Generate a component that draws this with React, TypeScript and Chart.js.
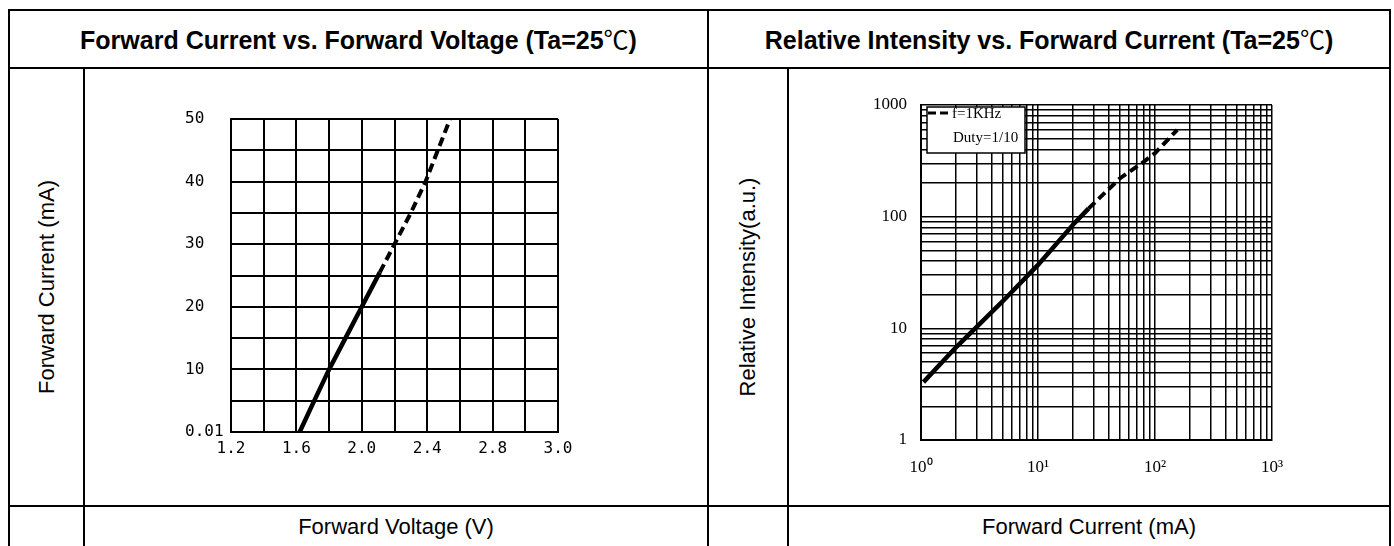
import React, { useEffect, useRef } from "react";
import { Chart, registerables } from "chart.js";

Chart.register(...registerables);

// ---- Left chart: Forward Current vs. Forward Voltage ----
const fvVoltSolid = [1.62, 1.7, 1.8, 1.9, 2.0, 2.11];
const fvCurrSolid = [0, 4.5, 10, 15, 20, 25.5];
const fvVoltDashed = [2.11, 2.2, 2.3, 2.39, 2.465, 2.54];
const fvCurrDashed = [25.5, 30, 35, 40, 45, 50];
const fvXTickLabels = ["1.2", "", "1.6", "", "2.0", "", "2.4", "", "2.8", "", "3.0"];
const fvYTickLabels = ["0.01", "", "10", "", "20", "", "30", "", "40", "", "50"];

// ---- Right chart: Relative Intensity vs. Forward Current ----
const riCurrSolid = [1.05, 2, 5, 10, 20, 27];
const riIntSolid = [3.3, 6.8, 17.5, 37, 85, 118];
const riCurrDashed = [27, 50, 80, 100, 155];
const riIntDashed = [118, 220, 310, 370, 600];
const riGridValues = [
  1, 2, 3, 4, 5, 6, 7, 8, 9,
  10, 20, 30, 40, 50, 60, 70, 80, 90,
  100, 200, 300, 400, 500, 600, 700, 800, 900,
  1000,
];
const riDecades = [1, 10, 100, 1000];
const riXDecadeLabels = ["10⁰", "10¹", "10²", "10³"];
const riYDecadeLabels = ["1", "10", "100", "1000"];
const riLegendLines = ["f=1KHz", "Duty=1/10"];

const SANS = '"Liberation Sans", Arial, sans-serif';
const CJK = '"Noto Sans CJK SC", "Noto Sans CJK JP", sans-serif';

function toPoints(xs: number[], ys: number[]) {
  return xs.map((x, i) => ({ x, y: ys[i] }));
}

function useChart(build: () => any) {
  const ref = useRef<HTMLCanvasElement | null>(null);
  useEffect(() => {
    if (!ref.current) return;
    const chart = new Chart(ref.current, build());
    return () => chart.destroy();
  }, []);
  return ref;
}

function leftConfig() {
  return {
    type: "scatter",
    data: {
      datasets: [
        {
          data: toPoints(fvVoltSolid, fvCurrSolid),
          showLine: true,
          borderColor: "#000",
          borderWidth: 4.5,
          pointRadius: 0,
        },
        {
          data: toPoints(fvVoltDashed, fvCurrDashed),
          showLine: true,
          borderColor: "#000",
          borderWidth: 4,
          borderDash: [9, 5],
          pointRadius: 0,
        },
      ],
    },
    options: {
      responsive: false,
      animation: false,
      layout: { padding: { left: 100, top: 50, right: 149, bottom: 43 } },
      plugins: { legend: { display: false }, tooltip: { enabled: false } },
      scales: {
        x: {
          type: "linear",
          min: 1.2,
          max: 3.2,
          afterFit: (s: any) => {
            s.height = 30;
          },
          ticks: {
            stepSize: 0.2,
            autoSkip: false,
            maxRotation: 0,
            padding: 7,
            color: "#000",
            font: { family: '"DejaVu Sans Mono", monospace', size: 16 },
            callback: (_v: any, i: number) => fvXTickLabels[i],
          },
          grid: { color: "#000", lineWidth: 2, drawTicks: false },
          border: { display: true, color: "#000", width: 2 },
        },
        y: {
          type: "linear",
          min: 0,
          max: 50,
          afterFit: (s: any) => {
            s.width = 46;
          },
          ticks: {
            stepSize: 5,
            autoSkip: false,
            crossAlign: "far",
            color: "#000",
            font: { family: '"DejaVu Sans Mono", monospace', size: 16 },
            callback: (_v: any, i: number) => fvYTickLabels[i],
          },
          grid: { color: "#000", lineWidth: 2, drawTicks: false },
          border: { display: true, color: "#000", width: 2 },
        },
      },
    },
  };
}

const legendBoxPlugin = {
  id: "legendBox",
  afterDraw(chart: any) {
    const { ctx, chartArea } = chart;
    const x = chartArea.left + 6;
    const y = chartArea.top + 2;
    const w = 98;
    const h = 46;
    ctx.save();
    ctx.fillStyle = "#fff";
    ctx.fillRect(x, y, w, h);
    ctx.strokeStyle = "#000";
    ctx.lineWidth = 1.5;
    ctx.strokeRect(x, y, w, h);
    ctx.beginPath();
    ctx.setLineDash([8, 4]);
    ctx.lineWidth = 3;
    ctx.moveTo(x + 1, y + 6);
    ctx.lineTo(x + 22, y + 6);
    ctx.stroke();
    ctx.setLineDash([]);
    ctx.fillStyle = "#000";
    ctx.font = '15px "Liberation Serif", serif';
    ctx.textBaseline = "middle";
    ctx.textAlign = "left";
    ctx.fillText(riLegendLines[0], x + 25, y + 7);
    ctx.fillText(riLegendLines[1], x + 26, y + 31);
    ctx.restore();
  },
};

function decadeLabel(v: number, labels: string[]) {
  const i = riDecades.findIndex((d) => Math.abs(d - v) < 1e-9);
  return i >= 0 ? labels[i] : "";
}

function rightConfig() {
  return {
    type: "scatter",
    data: {
      datasets: [
        {
          data: toPoints(riCurrSolid, riIntSolid),
          showLine: true,
          borderColor: "#000",
          borderWidth: 4.5,
          pointRadius: 0,
        },
        {
          data: toPoints(riCurrDashed, riIntDashed),
          showLine: true,
          borderColor: "#000",
          borderWidth: 4,
          borderDash: [9, 5],
          pointRadius: 0,
        },
      ],
    },
    plugins: [legendBoxPlugin],
    options: {
      responsive: false,
      animation: false,
      layout: { padding: { left: 72, top: 36, right: 117, bottom: 25 } },
      plugins: { legend: { display: false }, tooltip: { enabled: false } },
      scales: {
        x: {
          type: "logarithmic",
          min: 1,
          max: 1000,
          afterBuildTicks: (s: any) => {
            s.ticks = riGridValues.map((v) => ({ value: v }));
          },
          afterFit: (s: any) => {
            s.height = 40;
          },
          ticks: {
            autoSkip: false,
            maxRotation: 0,
            padding: 17,
            color: "#000",
            font: { family: '"Liberation Serif", serif', size: 17 },
            callback: (v: any) => decadeLabel(Number(v), riXDecadeLabels),
          },
          grid: { color: "#000", lineWidth: 1.5, drawTicks: false },
          border: { display: true, color: "#000", width: 2 },
        },
        y: {
          type: "logarithmic",
          min: 1,
          max: 1000,
          afterBuildTicks: (s: any) => {
            s.ticks = riGridValues.map((v) => ({ value: v }));
          },
          afterFit: (s: any) => {
            s.width = 60;
          },
          ticks: {
            autoSkip: false,
            padding: 14,
            color: "#000",
            font: { family: '"Liberation Serif", serif', size: 17 },
            callback: (v: any) => decadeLabel(Number(v), riYDecadeLabels),
          },
          grid: { color: "#000", lineWidth: 1.5, drawTicks: false },
          border: { display: true, color: "#000", width: 2 },
        },
      },
    },
  };
}

function Line({ x, y, w, h }: { x: number; y: number; w: number; h: number }) {
  return (
    <div
      style={{ position: "absolute", left: x, top: y, width: w, height: h, background: "#000" }}
    />
  );
}

function CellText({
  x, y, w, h, children, bold, rotate, size,
}: {
  x: number; y: number; w: number; h: number; children: any; bold?: boolean; rotate?: boolean; size?: number;
}) {
  return (
    <div
      style={{
        position: "absolute",
        left: x + w / 2,
        top: y + h / 2,
        transform: `translate(-50%, -50%)${rotate ? " rotate(-90deg)" : ""}`,
        whiteSpace: "nowrap",
        fontFamily: SANS,
        fontSize: size || 22,
        fontWeight: bold ? 700 : 400,
        color: "#000",
        lineHeight: 1,
      }}
    >
      {children}
    </div>
  );
}

function Celsius() {
  return <span style={{ fontFamily: CJK, fontWeight: 400 }}>℃</span>;
}

export default function App() {
  const leftRef = useChart(leftConfig);
  const rightRef = useChart(rightConfig);
  return (
    <div style={{ position: "absolute", left: 0, top: 0, width: 1394, height: 546, overflow: "hidden", background: "#fff" }}>
      <Line x={8} y={9} w={1383} h={2} />
      <Line x={8} y={67} w={1383} h={2} />
      <Line x={8} y={505} w={1383} h={2} />
      <Line x={8} y={9} w={2} h={560} />
      <Line x={707} y={9} w={2} h={560} />
      <Line x={1389} y={9} w={2} h={560} />
      <Line x={83} y={67} w={2} h={500} />
      <Line x={787} y={67} w={2} h={500} />

      <CellText x={10} y={11} w={697} h={56} bold size={25}>
        Forward Current vs. Forward Voltage (Ta=25<Celsius />)
      </CellText>
      <CellText x={709} y={11} w={680} h={56} bold size={25}>
        Relative Intensity vs. Forward Current (Ta=25<Celsius />)
      </CellText>
      <CellText x={10} y={69} w={73} h={436} rotate>Forward Current (mA)</CellText>
      <CellText x={709} y={69} w={78} h={436} rotate>Relative Intensity(a.u.)</CellText>
      <CellText x={85} y={507} w={622} h={40}>Forward Voltage (V)</CellText>
      <CellText x={789} y={507} w={600} h={40}>Forward Current (mA)</CellText>

      <div style={{ position: "absolute", left: 85, top: 69, width: 622, height: 436 }}>
        <canvas ref={leftRef} width={622} height={436} style={{ display: "block" }} />
      </div>
      <div style={{ position: "absolute", left: 789, top: 69, width: 600, height: 436 }}>
        <canvas ref={rightRef} width={600} height={436} style={{ display: "block" }} />
      </div>
    </div>
  );
}
